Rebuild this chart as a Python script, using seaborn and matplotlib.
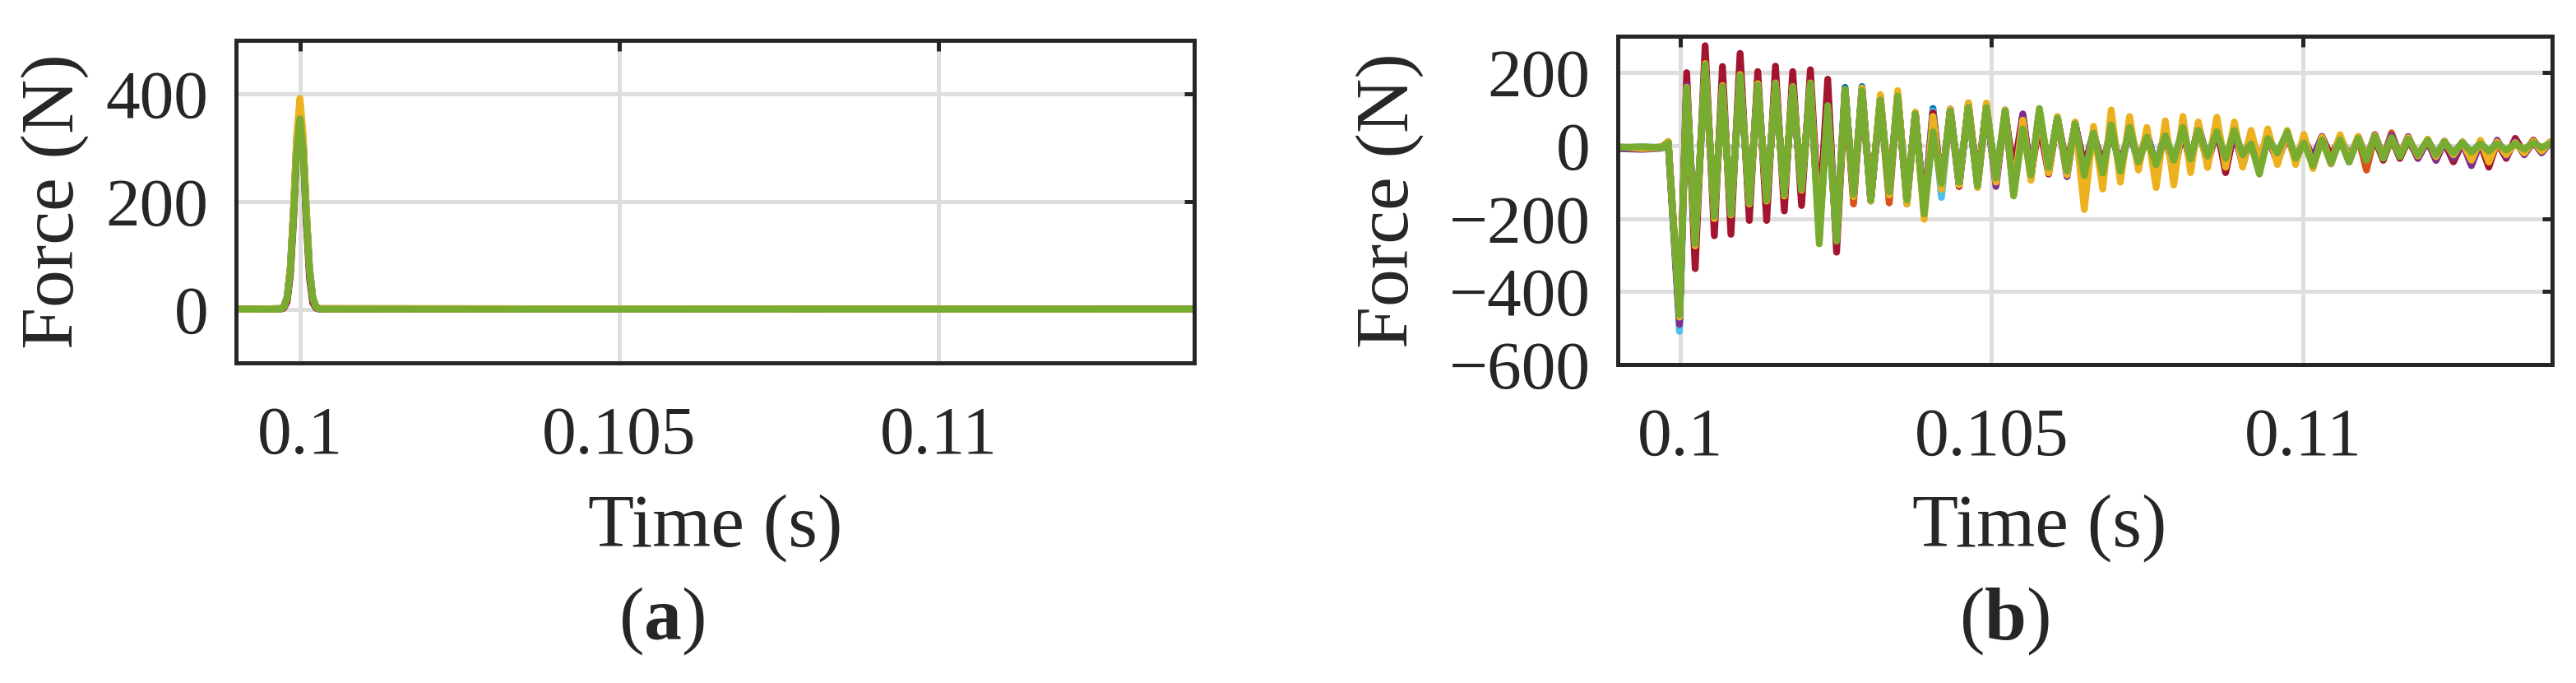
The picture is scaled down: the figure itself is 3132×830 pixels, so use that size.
import numpy as np
import pandas as pd
import matplotlib
matplotlib.use("Agg")
import matplotlib.pyplot as plt
import seaborn as sns

# ---------------- data ----------------
SERIES = ["blue", "orange", "lightblue", "red", "purple", "yellow", "green"]
COLORS = {"blue": "#0072BD", "orange": "#D95319", "yellow": "#EDB120",
          "purple": "#7E2F8E", "green": "#77AC30", "lightblue": "#4DBEEE",
          "red": "#A2142F"}

# panel (a): impact force pulse
T_A = [0.0990, 0.09970, 0.09975, 0.09980, 0.09985, 0.09990, 0.09995, 0.10000,
       0.10005, 0.10010, 0.10015, 0.10020, 0.10025, 0.10030, 0.1140]
A_yellow = [0, 1, 4, 22, 77, 188, 325, 392, 325, 188, 77, 22, 4, 1, 0]
A_lightblue = [0, 1, 4, 21, 75, 185, 320, 385, 318, 182, 74, 20, 4, 0, 0]
A_purple = [0, 1, 5, 23, 78, 184, 314, 377, 310, 178, 70, 19, 3, 0, 0]
A_green = [0, 0, 4, 20, 70, 170, 294, 354, 294, 170, 70, 20, 4, 0, 0]
A_red = [0, 0, 2, 14, 62, 165, 300, 370, 300, 160, 58, 12, 2, 0, 0]
A_blue = [0, 1, 5, 22, 76, 182, 312, 375, 315, 185, 78, 23, 5, 1, 0]
A_orange = [0, 1, 4, 20, 72, 176, 303, 365, 303, 176, 72, 20, 4, 1, 0]

# panel (b): response force (extrema)
T_B = [0.0990, 0.0994, 0.0997, 0.09981, 0.09999,
       0.100106, 0.100242, 0.100402, 0.100550, 0.100680, 0.100816, 0.100963, 0.101111, 0.101247, 0.101389,
       0.101531, 0.101673, 0.101808, 0.101950, 0.102092, 0.102234, 0.102370, 0.102512, 0.102648, 0.102784,
       0.102920, 0.103061, 0.103215, 0.103357, 0.103493, 0.103641, 0.103776, 0.103918, 0.104060, 0.104196,
       0.104338, 0.104480, 0.104628, 0.104775, 0.104917, 0.105071, 0.105219, 0.105354, 0.105502, 0.105632,
       0.105768, 0.105916, 0.106058, 0.106212, 0.106342, 0.106489, 0.106637, 0.106785, 0.106921, 0.107068,
       0.107216, 0.107358, 0.107494, 0.107642, 0.107789, 0.107925, 0.108073, 0.108196, 0.108319, 0.108468,
       0.108617, 0.108758, 0.108899, 0.109032, 0.109166, 0.109300, 0.109434, 0.109590, 0.109747, 0.109881,
       0.110015, 0.110160, 0.110305, 0.110450, 0.110595, 0.110740, 0.110886, 0.111020, 0.111154, 0.111288,
       0.111421, 0.111555, 0.111689, 0.111845, 0.112002, 0.112136, 0.112270, 0.112415, 0.112559, 0.112704,
       0.112849, 0.112983, 0.113117, 0.113262, 0.113408, 0.113553, 0.113698, 0.113831, 0.113965, 0.1140]

B_green = [-5, -3, -6, 8, -464,
           158, -269, 222, -194, 162, -187, 192, -157, 166, -149,
           170, -134, 160, -119, 170, -269, 110, -262, 155, -134,
           151, -149, 125, -127, 136, -149, 87, -187, 38, -104,
           95, -100, 105, -110, 105, -89, 95, -138, 46, -80,
           102, -60, 75, -70, 60, -82, 35, -75, 57, -70,
           50, -45, 23, -52, 27, -40, 50, -37, 42, -29,
           38, -35, 42, -25, 5, -78, 20, -20, 38, -35,
           8, -55, 16, -48, 16, -45, 20, -40, 25, -35,
           22, -30, 18, -25, 15, -25, 10, -20, 8, -18,
           5, -15, 5, -12, 5, -10, 8, -5, 5, 3]
B_red = [-4, -6, -4, 10, -480,
         200, -337, 274, -247, 217, -243, 253, -205, 203, -205,
         218, -179, 203, -164, 208, -213, 182, -292, 150, -140,
         155, -150, 130, -130, 140, -150, 89, -180, 90, -110,
         95, -112, 117, -100, 110, -100, 90, -70, 85, -80,
         60, -78, 75, -60, 60, -55, 30, -50, 40, -50,
         40, -40, 20, -60, 35, -82, 45, -55, 60, -45,
         50, -74, 40, -50, 30, -40, 25, -45, 30, -40,
         20, -35, 25, -30, 20, -35, 15, -30, 18, -40,
         20, -35, 15, -30, 12, -40, 10, -44, 8, -30,
         5, -59, 10, -35, 20, -20, 15, -15, 10, 5]
B_yellow = [-3, -8, -5, 12, -470,
            160, -275, 225, -200, 165, -190, 195, -160, 170, -152,
            172, -138, 162, -122, 172, -240, 100, -255, 150, -140,
            158, -152, 140, -135, 151, -160, 92, -202, 80, -120,
            100, -108, 117, -115, 117, -100, 98, -125, 70, -95,
            95, -75, 80, -80, 65, -175, 53, -119, 98, -100,
            80, -67, 50, -115, 68, -108, 80, -74, 65, -60,
            78, -59, 65, -59, 42, -50, 46, -52, 42, -52,
            31, -63, 23, -50, 30, -40, 25, -35, 28, -30,
            20, -25, 22, -28, 18, -30, 12, -25, 10, -40,
            15, -45, 10, -25, 8, -20, 12, -15, 10, 5]
B_purple = [-8, -10, -7, 6, -490,
            165, -265, 215, -190, 160, -185, 190, -155, 165, -147,
            168, -132, 158, -118, 168, -230, 106, -255, 150, -138,
            150, -150, 128, -128, 135, -148, 85, -180, 60, -112,
            100, -105, 108, -112, 107, -112, 93, -130, 87, -85,
            95, -70, 78, -85, 62, -80, 38, -78, 60, -72,
            52, -50, 38, -60, 35, -55, 45, -50, 57, -40,
            45, -45, 40, -55, 30, -40, 25, -40, 35, -45,
            20, -35, 25, -50, 22, -45, 25, -35, 30, -30,
            28, -25, 25, -35, 15, -40, 12, -35, 8, -55,
            10, -40, 15, -30, 12, -25, 10, -20, 8, 2]
B_blue = [-6, -4, -5, 9, -475,
          162, -262, 218, -190, 160, -183, 190, -160, 168, -152,
          170, -138, 162, -124, 170, -235, 108, -250, 160, -145,
          162, -152, 135, -130, 142, -160, 90, -175, 102, -120,
          100, -105, 110, -104, 110, -95, 98, -100, 80, -90,
          90, -70, 78, -72, 60, -70, 40, -70, 50, -65,
          45, -55, 35, -60, 40, -55, 48, -50, 50, -40,
          45, -45, 40, -40, 30, -50, 25, -45, 35, -40,
          15, -40, 22, -35, 25, -30, 20, -30, 22, -35,
          20, -30, 15, -30, 12, -28, 10, -25, 10, -22,
          8, -20, 10, -18, 6, -15, 8, -12, 6, 2]
B_lightblue = [-5, -7, -4, 7, -509,
               155, -272, 216, -196, 158, -188, 188, -158, 163, -150,
               166, -136, 158, -120, 166, -240, 104, -258, 150, -136,
               148, -150, 128, -130, 134, -150, 85, -175, 95, -142,
               98, -100, 108, -108, 105, -92, 94, -120, 75, -85,
               92, -68, 74, -75, 58, -80, 40, -72, 52, -68,
               48, -50, 30, -55, 35, -50, 45, -45, 48, -38,
               42, -40, 40, -35, 28, -45, 22, -35, 32, -38,
               14, -45, 18, -40, 20, -38, 20, -35, 28, -30,
               24, -28, 20, -30, 14, -25, 12, -22, 10, -20,
               8, -18, 8, -15, 6, -12, 8, -10, 6, 3]
B_orange = [-5, -5, -6, 10, -468,
            160, -268, 220, -192, 161, -186, 191, -157, 166, -150,
            169, -135, 160, -120, 168, -245, 105, -258, 152, -160,
            152, -150, 128, -157, 138, -150, 88, -180, 90, -110,
            96, -102, 106, -106, 104, -92, 94, -115, 80, -88,
            92, -70, 76, -72, 60, -78, 38, -72, 55, -70,
            48, -48, 30, -55, 32, -50, 45, -45, 50, -50,
            40, -55, 38, -40, 28, -42, 22, -38, 35, -40,
            12, -45, 18, -45, 20, -40, 22, -67, 30, -35,
            35, -30, 20, -35, 15, -30, 12, -44, 10, -40,
            12, -30, 10, -25, 8, -18, 8, -12, 6, 3]

X_TICKS = [0.1, 0.105, 0.11]
X_TICKLABELS = ["0.1", "0.105", "0.11"]
YA_TICKS = [0, 200, 400]
YB_TICKS = [-600, -400, -200, 0, 200]

A_DATA = {"blue": A_blue, "orange": A_orange, "lightblue": A_lightblue, "red": A_red,
          "purple": A_purple, "yellow": A_yellow, "green": A_green}
B_DATA = {"blue": B_blue, "orange": B_orange, "lightblue": B_lightblue, "red": B_red,
          "purple": B_purple, "yellow": B_yellow, "green": B_green}


def long_df(t, data):
    rows = []
    for name in SERIES:
        for ti, v in zip(t, data[name]):
            rows.append((name, ti, v))
    return pd.DataFrame(rows, columns=["series", "t", "F"])


# ---------------- style ----------------
sns.set_theme(style="white")
plt.rcParams["font.family"] = ["Liberation Serif", "DejaVu Serif"]
plt.rcParams["mathtext.fontset"] = "custom"
plt.rcParams["mathtext.rm"] = "Liberation Serif"
plt.rcParams["mathtext.bf"] = "Liberation Serif:bold"
plt.rcParams["axes.unicode_minus"] = True
plt.rcParams["lines.solid_joinstyle"] = "round"
plt.rcParams["lines.solid_capstyle"] = "round"

INK = "#262626"
DPI = 200
fig = plt.figure(figsize=(3132 / DPI, 830 / DPI), dpi=DPI)

ax_a = fig.add_axes([287 / 3132, 1 - 441 / 830, (1452 - 287) / 3132, (441 - 49) / 830])
ax_b = fig.add_axes([1967 / 3132, 1 - 443 / 830, (3103 - 1967) / 3132, (443 - 44) / 830])


def style_axes(ax, yticks, ylim, ylab_x):
    ax.set_xlim(0.099, 0.114)
    ax.set_ylim(*ylim)
    ax.set_xticks(X_TICKS)
    ax.set_xticklabels(X_TICKLABELS)
    ax.set_yticks(yticks)
    ax.set_axisbelow(True)
    ax.grid(True, color="#dedede", lw=1.8)
    for s in ax.spines.values():
        s.set_visible(True)
        s.set_color(INK)
        s.set_linewidth(1.8)
    ax.tick_params(axis="both", direction="in", length=4.5, width=1.8, color=INK,
                   top=True, right=True, labelsize=30, labelcolor=INK)
    ax.tick_params(axis="x", pad=19)
    ax.tick_params(axis="y", pad=12)
    ax.set_xlabel("Time (s)", fontsize=33, color=INK, va="baseline")
    ax.set_ylabel("Force (N)", fontsize=33, color=INK, va="center")
    ax.yaxis.set_label_coords(ylab_x, 0.5)


palette = [COLORS[s] for s in SERIES]

sns.lineplot(data=long_df(T_A, A_DATA), x="t", y="F", hue="series", hue_order=SERIES,
             palette=palette, sort=False, estimator=None, lw=3.0, legend=False, ax=ax_a)
sns.lineplot(data=long_df(T_B, B_DATA), x="t", y="F", hue="series", hue_order=SERIES,
             palette=palette, sort=False, estimator=None, lw=3.0, legend=False, ax=ax_b)

style_axes(ax_a, YA_TICKS, (-100, 500), -0.189)
style_axes(ax_b, YB_TICKS, (-600, 300), -0.244)
ax_a.xaxis.set_label_coords(0.5, (441 - 664) / 392)
ax_b.xaxis.set_label_coords(0.451, (443 - 664) / 399)

fig.text(804 / 3132, 1 - 777 / 830, r"($\mathbf{a}$)", fontsize=33, color=INK,
         ha="center", va="baseline")
fig.text(2437 / 3132, 1 - 777 / 830, r"($\mathbf{b}$)", fontsize=33, color=INK,
         ha="center", va="baseline")

fig.savefig("out.png", dpi=DPI)
